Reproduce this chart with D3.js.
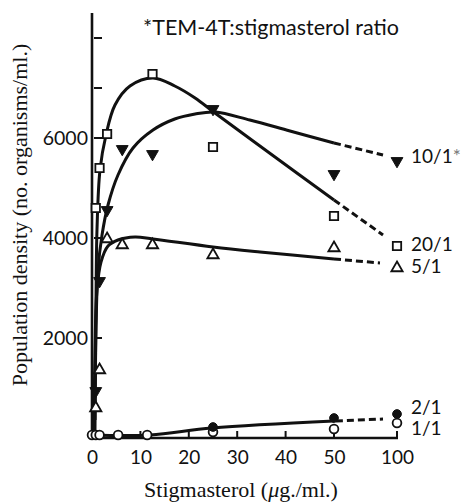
<!DOCTYPE html>
<html>
<head>
<meta charset="utf-8">
<script src="https://cdn.jsdelivr.net/npm/d3@7"></script>
<style>
  body { margin: 0; background: #fff; }
  svg { display: block; }
  .tick text, .lab { font-family: Lato, "Open Sans", sans-serif; }
  .ttl { font-family: "Liberation Serif", "DejaVu Serif", serif; }
</style>
</head>
<body>
<script>
// points (stigmasterol ug/ml -> organisms/ml)
var conc = [0.78, 1.56, 3.12, 6.25, 12.5, 25, 50, 100];
var ratio10 = [940, 3140, 4560, 5780, 5680, 6580, 5280, 5540];
var ratio5 = [600, 1360, 3980, 3860, 3860, 3660, 3800, 3400];
var conc20 = [0.78, 1.56, 3.12, 12.5, 25, 50, 100];
var ratio20 = [4600, 5400, 6080, 7280, 5820, 4440, 3840];
var conc1 = [0, 0.78, 1.56, 5.4, 11.4, 25, 50, 100];
var ratio1 = [60, 60, 60, 60, 60, 120, 180, 300];
var conc2 = [25, 50, 100];
var ratio2 = [220, 400, 480];

// hand drawn fitted curves: [conc, density]
var curve20 = [[0.62, 360], [0.83, 2760], [1.03, 4160], [1.65, 5360], [2.89, 6060], [4.75, 6660], [7.85, 7040],
    [12.6, 7200], [17.1, 7040], [21.3, 6800], [25.4, 6500], [37.8, 5620], [50, 4760]];
var curve10 = [[0.62, 160], [0.83, 2160], [1.24, 3360], [2.07, 4060], [3.31, 4660], [5.37, 5260], [8.47, 5800],
    [12.6, 6160], [17.1, 6380], [21.3, 6480], [25.4, 6520], [32.6, 6360], [40.9, 6140], [50, 5900]];
var curve5 = [[0.41, 160], [0.62, 1760], [1.03, 2960], [1.86, 3520], [3.31, 3840], [5.37, 3960], [8.88, 4020],
    [12.6, 3980], [25, 3820], [34.7, 3720], [50, 3580]];
var curve2 = [[0, 60], [12, 60], [24.8, 200], [50, 340]];
var tail20 = [[50, 4760], [88.9, 4060]];
var tail10 = [[50, 5900], [88.9, 5660]];
var tail5 = [[50, 3580], [86.5, 3500]];
var tail2 = [[51.5, 340], [88.9, 380]];

var xTicks = [0, 10, 20, 30, 40, 50, 100];
var yTicks = [2000, 4000, 6000, 7000, 8000];
var yLabels = [2000, 4000, 6000];
var seriesNames = ["10/1", "20/1", "5/1", "2/1", "1/1"];

var svg = d3.select("body")
    .append("svg")
    .attr("width", 466)
    .attr("height", 503);

// 50..100 is squeezed on the original axis
var x = d3.scaleLinear().domain([0, 50, 100]).range([92, 334, 397]);
var y = d3.scaleLinear().domain([0, 8000]).range([438, 38]);

// axes
svg.append("line")
    .attr("x1", x(0)).attr("x2", x(0))
    .attr("y1", 13).attr("y2", y(0) - 3)
    .attr("stroke", "#111").attr("stroke-width", 2.6);
svg.append("line")
    .attr("x1", x(0)).attr("x2", x(100) + 1)
    .attr("y1", y(0)).attr("y2", y(0))
    .attr("stroke", "#111").attr("stroke-width", 2.4);

var xAx = svg.append("g")
    .attr("transform", "translate(0," + y(0) + ")")
    .call(d3.axisBottom(x).tickValues(xTicks).tickSize(0).tickPadding(13).tickFormat(d3.format("d")));
xAx.select(".domain").remove();
xAx.selectAll(".tick text").attr("font-size", 19).attr("fill", "#111");
svg.selectAll(".xt")
    .data(xTicks.filter(function (d) { return d > 0; }))
    .enter()
    .append("line")
    .attr("x1", function (d) { return x(d); })
    .attr("x2", function (d) { return x(d); })
    .attr("y1", y(0)).attr("y2", y(0) - 7)
    .attr("stroke", "#111").attr("stroke-width", 2);

svg.selectAll(".yt")
    .data(yTicks)
    .enter()
    .append("line")
    .attr("x1", x(0) + 2).attr("x2", x(0) + 10)
    .attr("y1", function (d) { return y(d); })
    .attr("y2", function (d) { return y(d); })
    .attr("stroke", "#111").attr("stroke-width", 2);
svg.selectAll(".yl")
    .data(yLabels)
    .enter()
    .append("text")
    .attr("class", "lab")
    .attr("x", 88)
    .attr("y", function (d) { return y(d); })
    .attr("dy", "0.36em")
    .attr("text-anchor", "end")
    .attr("font-size", 19.5)
    .attr("fill", "#111")
    .text(function (d) { return d; });

// curves
var line = d3.line()
    .x(function (d) { return x(d[0]); })
    .y(function (d) { return y(d[1]); })
    .curve(d3.curveCatmullRom.alpha(0.5));

[curve20, curve10, curve5, curve2].forEach(function (c) {
    svg.append("path")
        .attr("d", line(c))
        .attr("fill", "none")
        .attr("stroke", "#111")
        .attr("stroke-width", 3);
});
[tail20, tail10, tail5, tail2].forEach(function (c) {
    svg.append("path")
        .attr("d", line(c))
        .attr("fill", "none")
        .attr("stroke", "#111")
        .attr("stroke-width", 3)
        .attr("stroke-dasharray", "7,4");
});

// markers
function marks(xs, ys, type, size, filled, rot) {
    svg.append("g")
        .selectAll("path")
        .data(ys)
        .enter()
        .append("path")
        .attr("d", d3.symbol().type(type).size(size))
        .attr("transform", function (d, i) {
            return "translate(" + x(xs[i]) + "," + y(d) + ") rotate(" + rot + ")";
        })
        .attr("fill", filled ? "#111" : "#fff")
        .attr("stroke", "#111")
        .attr("stroke-width", filled ? 1 : 1.8);
}
marks(conc20, ratio20, d3.symbolSquare, 70, false, 0);
marks(conc, ratio5, d3.symbolTriangle, 55, false, 0);
marks(conc, ratio10, d3.symbolTriangle, 60, true, 180);
marks(conc1, ratio1, d3.symbolCircle, 60, false, 0);
marks(conc2, ratio2, d3.symbolCircle, 60, true, 0);

// series labels at the 100 end
var lastY = [ratio10[7], ratio20[6], ratio5[7], ratio2[2], ratio1[7]];
var labDy = [-5, -2, -2, -7, 5];
svg.selectAll(".sl")
    .data(seriesNames)
    .enter()
    .append("text")
    .attr("class", "lab")
    .attr("x", x(100) + 14)
    .attr("y", function (d, i) { return y(lastY[i]) + labDy[i]; })
    .attr("dy", "0.36em")
    .attr("font-size", 19)
    .attr("fill", "#111")
    .text(function (d) { return d; })
    .filter(function (d, i) { return i === 0; })
    .append("tspan")
    .attr("fill", "#777")
    .text("*");

// titles
svg.append("text")
    .attr("class", "lab")
    .attr("x", 271).attr("y", 35)
    .attr("text-anchor", "middle")
    .attr("font-size", 21.5)
    .attr("fill", "#111")
    .text("*TEM-4T:stigmasterol ratio");

svg.append("text")
    .attr("class", "ttl")
    .attr("x", 241).attr("y", 497)
    .attr("text-anchor", "middle")
    .attr("font-size", 22)
    .attr("fill", "#111")
    .html("Stigmasterol (<tspan font-style='italic'>μ</tspan>g./ml.)");

svg.append("text")
    .attr("class", "ttl")
    .attr("transform", "translate(27,215) rotate(-90)")
    .attr("text-anchor", "middle")
    .attr("font-size", 22)
    .attr("fill", "#111")
    .text("Population density (no. organisms/ml.)");
</script>
</body>
</html>
